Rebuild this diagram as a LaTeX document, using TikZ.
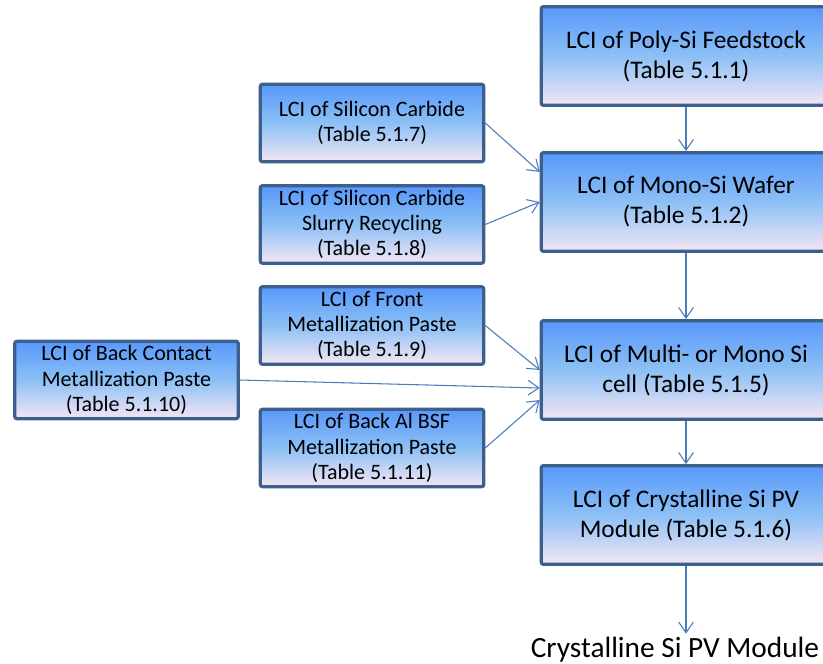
\documentclass[tikz,border=0pt]{standalone}
\usepackage{fontspec}
\setmainfont{Carlito}
\usetikzlibrary{arrows.meta}
\definecolor{bdr}{RGB}{61,95,140}
\definecolor{lnk}{RGB}{74,126,187}
\definecolor{topb}{RGB}{88,152,250}
\definecolor{midb}{RGB}{140,192,245}
\definecolor{botb}{RGB}{244,230,244}
\tikzset{
    lci/.style={draw=bdr,line width=2.4pt,rounded corners=1.5pt,top color=topb,bottom color=botb,middle color=midb,align=center,inner sep=0pt},
    big/.style={lci,minimum width=217pt,minimum height=74pt,font=\fontsize{19}{22.5}\selectfont},
    small/.style={lci,minimum width=167.5pt,minimum height=58pt,font=\fontsize{16.5}{19}\selectfont},
    flow/.style={lnk,line width=0.8pt,-{Straight Barb[length=8pt,width=11pt]}}
}

\begin{document}
\begin{tikzpicture}[x=0.75pt,y=-0.75pt]
            \clip (0,0) rectangle (823,663);
            % main chain
            \node [big] (feed) at (686,56) {LCI of Poly-Si Feedstock\\(Table 5.1.1)};
            \node [big] (wafer) at (686,202) {LCI of Mono-Si Wafer\\(Table 5.1.2)};
            \node [big] (cell) at (686,370) {LCI of Multi- or Mono Si\\cell (Table 5.1.5)};
            \node [big] (module) at (686,515) {LCI of Crystalline Si PV\\Module (Table 5.1.6)};
            \node [anchor=base,inner sep=2pt,font=\fontsize{22}{26}\selectfont] (pv) at (675,657) {Crystalline Si PV Module};
            % inputs
            \node [small] (sic) at (372,123) {LCI of Silicon Carbide\\(Table 5.1.7)};
            \node [small] (slurry) at (372,224.5) {LCI of Silicon Carbide\\Slurry Recycling\\(Table 5.1.8)};
            \node [small] (front) at (372,325.5) {LCI of Front\\Metallization Paste\\(Table 5.1.9)};
            \node [small] (backal) at (372,448) {LCI of Back Al BSF\\Metallization Paste\\(Table 5.1.11)};
            \node [small] (backc) at (126.5,380) {LCI of Back Contact\\Metallization Paste\\(Table 5.1.10)};
            % arrows
            \draw [flow] (feed.south) -- (wafer.north);
            \draw [flow] (wafer.south) -- (cell.north);
            \draw [flow] (cell.south) -- (module.north);
            \draw [flow] (module.south) -- (module.south |- pv.north);
            \draw [flow] (sic.east) -- ([yshift=22.5pt]wafer.west);
            \draw [flow] (slurry.east) -- (wafer.west);
            \draw [flow] (front.east) -- (cell.west);
            \draw [flow] (backc.east) -- ([yshift=-13.5pt]cell.west);
            \draw [flow] (backal.east) -- ([yshift=-22.5pt]cell.west);
        \end{tikzpicture}
\end{document}
